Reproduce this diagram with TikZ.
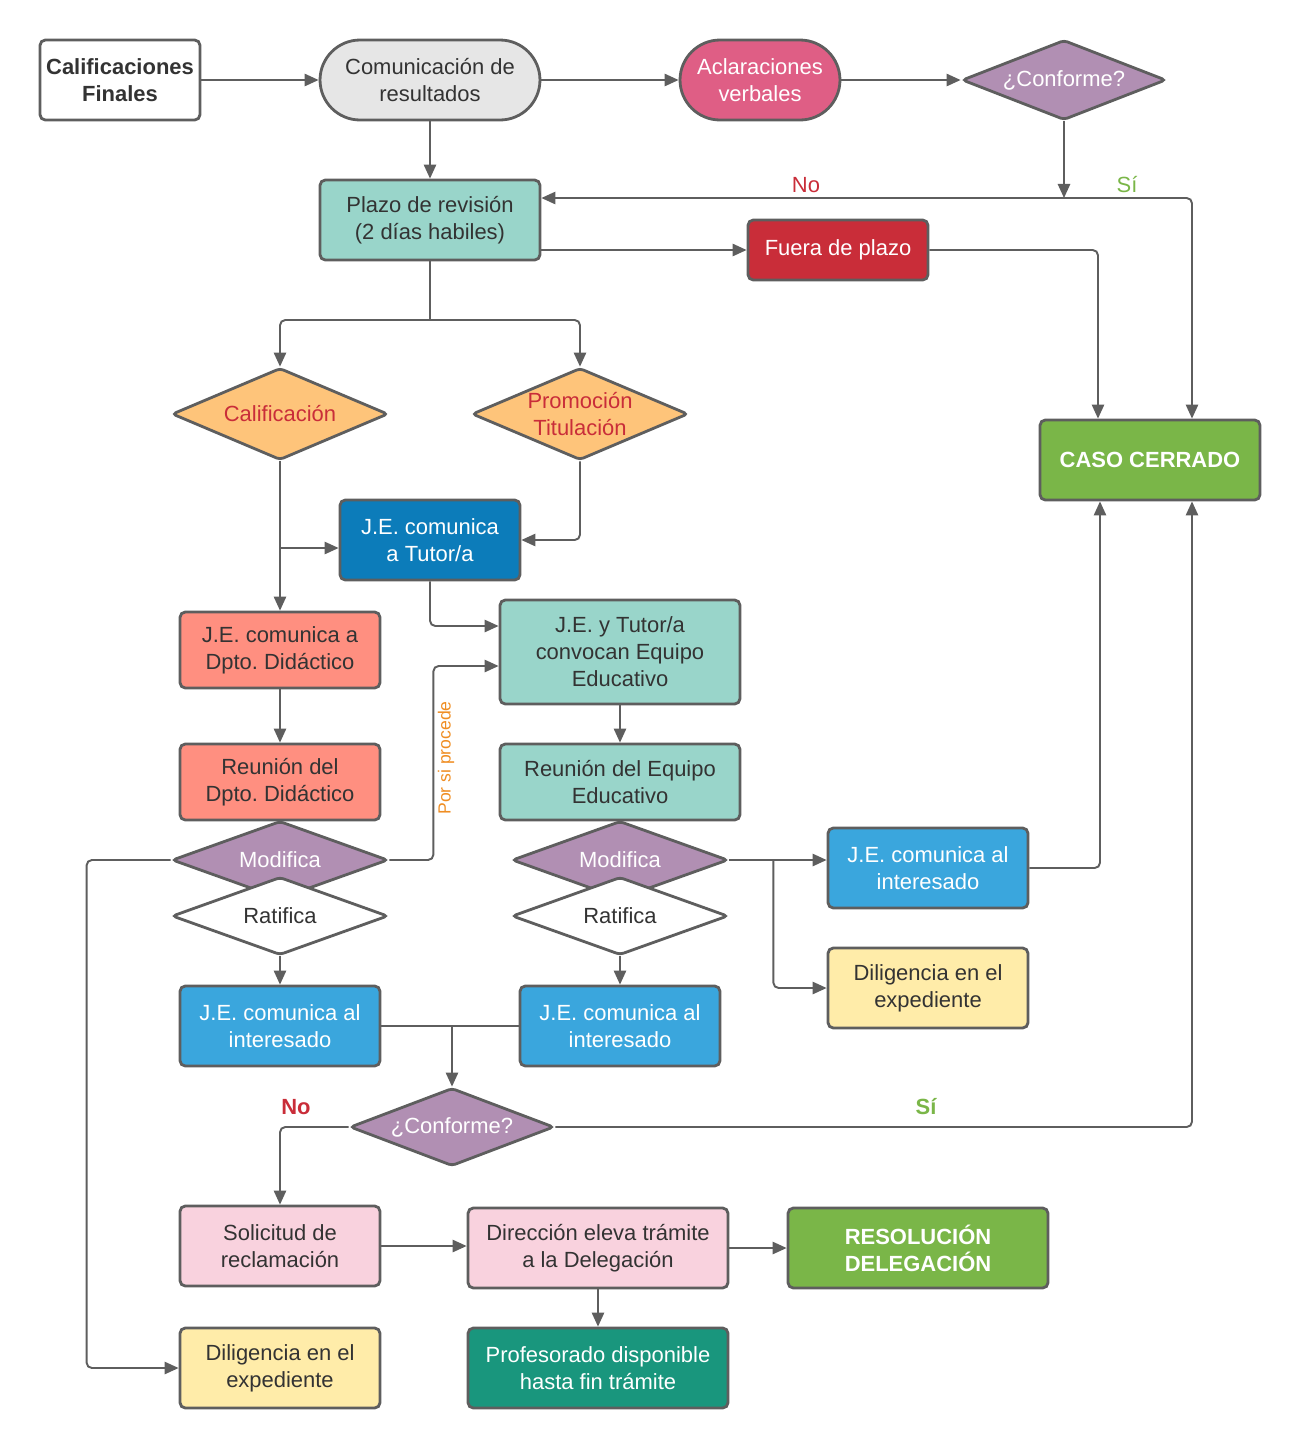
\documentclass[tikz,border=0pt]{standalone}
\usepackage{fontspec}
\setmainfont{Liberation Sans}
\frenchspacing
\usetikzlibrary{arrows.meta, positioning, shapes.geometric, calc}

\definecolor{linegray}{HTML}{5E5E5E}
\definecolor{txtdark}{HTML}{333333}
\definecolor{grayfill}{HTML}{E6E6E6}
\definecolor{pinkred}{HTML}{DF5E85}
\definecolor{purplefill}{HTML}{B18FB3}
\definecolor{tealfill}{HTML}{99D5CA}
\definecolor{redfill}{HTML}{C92D39}
\definecolor{greenfill}{HTML}{7AB648}
\definecolor{orangefill}{HTML}{FEC47A}
\definecolor{darkblue}{HTML}{0C7CBA}
\definecolor{salmon}{HTML}{FF8F80}
\definecolor{lightblue}{HTML}{3AA6DD}
\definecolor{yellowfill}{HTML}{FFECA9}
\definecolor{pinkfill}{HTML}{F9D2DE}
\definecolor{seagreen}{HTML}{19967D}
\definecolor{orangetxt}{HTML}{EF8D22}

\tikzset{
  box/.style={draw=linegray, line width=1.6pt, rounded corners=3pt, align=center,
    text=txtdark, inner sep=0pt, font=\fontsize{12.5}{15.3}\selectfont},
  pill/.style={box, rounded corners=0.8cm},
  decision/.style={diamond, draw=linegray, line width=1.6pt, rounded corners=2pt,
    inner sep=0pt, align=center, font=\fontsize{12.5}{15.3}\selectfont},
  conn/.style={draw=linegray, line width=1.1pt, rounded corners=3pt,
    -{Triangle[length=8pt,width=7pt]}},
  plain/.style={draw=linegray, line width=1.1pt, rounded corners=3pt},
  lbl/.style={font=\fontsize{12.5}{15.3}\selectfont, inner sep=0pt}
}

\begin{document}
\begin{tikzpicture}[x=0.02cm, y=-0.02cm]

\useasboundingbox (0,0) rectangle (1300,1448);

% top row
\node[box, fill=white, minimum width=3.2cm, minimum height=1.6cm, font=\fontsize{12.5}{15.3}\selectfont\bfseries] (calif) at (120,80) {Calificaciones\\Finales};
\node[pill, fill=grayfill, minimum width=4.4cm, minimum height=1.6cm] (comun) at (430,80) {Comunicación de\\resultados};
\node[pill, fill=pinkred, text=white, minimum width=3.2cm, minimum height=1.6cm] (aclar) at (760,80) {Aclaraciones\\verbales};
\node[decision, fill=purplefill, text=white, minimum width=4.08cm, minimum height=1.6cm, aspect=2.55] (conf1) at (1064,80) {¿Conforme?};

% plazo
\node[box, fill=tealfill, minimum width=4.4cm, minimum height=1.6cm] (plazo) at (430,220) {Plazo de revisión\\(2 días habiles)};
\node[box, fill=redfill, text=white, minimum width=3.6cm, minimum height=1.2cm] (fuera) at (838,250) {Fuera de plazo};
\node[box, fill=greenfill, text=white, minimum width=4.4cm, minimum height=1.6cm, font=\fontsize{12.5}{15.3}\selectfont\bfseries] (caso) at (1150,460) {CASO CERRADO};

% tipos
\node[decision, fill=orangefill, text=redfill, minimum width=4.32cm, minimum height=1.84cm, aspect=2.35] (califd) at (280,414) {Calificación};
\node[decision, fill=orangefill, text=redfill, minimum width=4.32cm, minimum height=1.84cm, aspect=2.35] (promo) at (580,414) {Promoción\\Titulación};
\node[box, fill=darkblue, text=white, minimum width=3.6cm, minimum height=1.6cm] (tutor) at (430,540) {J.E. comunica\\a Tutor/a};

% rama departamento
\node[box, fill=salmon, minimum width=4cm, minimum height=1.52cm] (jedpto) at (280,650) {J.E. comunica a\\Dpto. Didáctico};
\node[box, fill=salmon, minimum width=4cm, minimum height=1.52cm] (reudpto) at (280,782) {Reunión del\\Dpto. Didáctico};
\node[decision, fill=purplefill, text=white, minimum width=4.32cm, minimum height=1.56cm, aspect=2.77] (modl) at (280,860) {Modifica};
\node[decision, fill=white, text=txtdark, minimum width=4.32cm, minimum height=1.56cm, aspect=2.77] (ratl) at (280,916) {Ratifica};
\node[box, fill=lightblue, text=white, minimum width=4cm, minimum height=1.6cm] (jeintl) at (280,1026) {J.E. comunica al\\interesado};

% rama equipo educativo
\node[box, fill=tealfill, minimum width=4.8cm, minimum height=2.08cm] (convoca) at (620,652) {J.E. y Tutor/a\\convocan Equipo\\Educativo};
\node[box, fill=tealfill, minimum width=4.8cm, minimum height=1.52cm] (reueq) at (620,782) {Reunión del Equipo\\Educativo};
\node[decision, fill=purplefill, text=white, minimum width=4.32cm, minimum height=1.56cm, aspect=2.77] (modr) at (620,860) {Modifica};
\node[decision, fill=white, text=txtdark, minimum width=4.32cm, minimum height=1.56cm, aspect=2.77] (ratr) at (620,916) {Ratifica};
\node[box, fill=lightblue, text=white, minimum width=4cm, minimum height=1.6cm] (jeintr) at (620,1026) {J.E. comunica al\\interesado};
\node[box, fill=lightblue, text=white, minimum width=4cm, minimum height=1.6cm] (jeintx) at (928,868) {J.E. comunica al\\interesado};
\node[box, fill=yellowfill, minimum width=4cm, minimum height=1.6cm] (dilig1) at (928,988) {Diligencia en el\\expediente};

% reclamacion
\node[decision, fill=purplefill, text=white, minimum width=4.08cm, minimum height=1.56cm, aspect=2.6] (conf2) at (452,1127) {¿Conforme?};
\node[box, fill=pinkfill, minimum width=4cm, minimum height=1.6cm] (solic) at (280,1246) {Solicitud de\\reclamación};
\node[box, fill=pinkfill, minimum width=5.2cm, minimum height=1.6cm] (direc) at (598,1248) {Dirección eleva trámite\\a la Delegación};
\node[box, fill=greenfill, text=white, minimum width=5.2cm, minimum height=1.6cm, font=\fontsize{12.5}{15.3}\selectfont\bfseries] (resol) at (918,1248) {RESOLUCIÓN\\DELEGACIÓN};
\node[box, fill=seagreen, text=white, minimum width=5.2cm, minimum height=1.6cm] (profe) at (598,1368) {Profesorado disponible\\hasta fin trámite};
\node[box, fill=yellowfill, minimum width=4cm, minimum height=1.6cm] (dilig2) at (280,1368) {Diligencia en el\\expediente};

% etiquetas
\node[lbl, text=redfill] (no1) at (806,185) {No};
\node[lbl, text=greenfill] (si1) at (1127,185) {Sí};
\node[lbl, text=redfill, font=\fontsize{12.5}{15.3}\selectfont\bfseries] (no2) at (296,1107) {No};
\node[lbl, text=greenfill, font=\fontsize{12.5}{15.3}\selectfont\bfseries] (si2) at (926,1107) {Sí};
\node[lbl, text=orangetxt, rotate=90, font=\fontsize{10}{12}\selectfont] (porsi) at (446,758) {Por si procede};

% conectores arriba
\draw[conn] (calif) -- (comun);
\draw[conn] (comun) -- (aclar);
\draw[conn] (aclar) -- (conf1);
\draw[conn] (comun) -- (plazo);
\coordinate (j1) at (1064,198);
\draw[conn] (conf1.south) -- (j1);
\draw[conn] (j1) -- (j1 -| plazo.east);
\draw[conn] (j1) -| ($(caso.north)+(42,0)$);
\draw[conn] (plazo.east |- fuera) -- (fuera.west);
\draw[conn] (fuera.east) -| ($(caso.north)+(-52,0)$);

% reparto
\coordinate (j2) at (430,320);
\draw[plain] (plazo.south) -- (j2);
\draw[conn] (j2) -| (califd.north);
\draw[conn] (j2) -| (promo.north);
\draw[conn] (califd.south) -- (jedpto.north);
\coordinate (j3) at (280,548);
\draw[conn] (j3) -- (j3 -| tutor.west);
\draw[conn] (promo.south) |- (tutor.east);
\draw[conn] (tutor.south) |- ($(convoca.west)+(0,-26)$);

% departamento
\draw[conn] (jedpto) -- (reudpto);
\draw[conn] (modl.east) -- ++(44,0) |- ($(convoca.west)+(0,14)$);
\draw[conn] (modl.west) -- ++(-84,0) |- (dilig2.west);
\draw[conn] (ratl.south) -- (jeintl.north);

% equipo educativo
\draw[conn] (convoca) -- (reueq);
\draw[conn] (ratr.south) -- (jeintr.north);
\draw[conn] (modr.east) -- (modr.east -| jeintx.west);
\draw[conn] ($(modr.east)+(44,0)$) |- (dilig1.west);
\draw[conn] (jeintx.east) -| ($(caso.south)+(-50,0)$);

% conforme final
\draw[plain] (jeintl.east) -- (jeintr.west);
\coordinate (j4) at (conf2.north |- jeintl.east);
\draw[conn] (j4) -- (conf2.north);
\draw[conn] (conf2.west) -| (solic.north);
\draw[conn] (conf2.east) -| ($(caso.south)+(42,0)$);
\draw[conn] (solic.east) -- (solic.east -| direc.west);
\draw[conn] (direc) -- (resol);
\draw[conn] (direc) -- (profe);

\end{tikzpicture}
\end{document}
